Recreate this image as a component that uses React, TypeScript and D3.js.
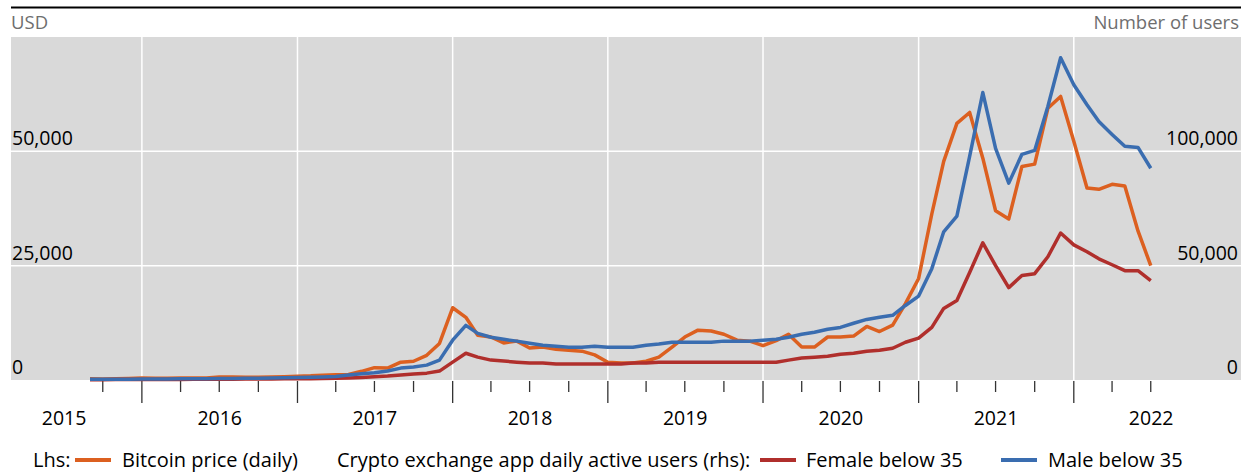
import React, { useEffect, useRef } from 'react';
import * as d3 from 'd3';

// monthly points, Aug 2015 .. Jun 2022 (plotted at month end)
const startMonth = [2015, 7]; // year, month index (0 = Jan)

const bitcoinPrice = [
  260, 235, 265, 350, 420,
  410, 400, 415, 435, 460, 640, 660, 580, 605, 640, 725, 830,
  915, 1060, 1130, 1210, 1900, 2700, 2600, 3900, 4100, 5400, 8000, 15800,
  13700, 9800, 9400, 8100, 8500, 7000, 7200, 6700, 6500, 6300, 5500, 3900,
  3700, 3700, 4100, 5000, 7200, 9400, 10900, 10700, 10000, 8700, 8500, 7500,
  8600, 10000, 7200, 7200, 9400, 9400, 9600, 11700, 10600, 12000, 16700, 22200,
  36300, 47800, 56100, 58500, 48500, 37000, 35200, 46700, 47200, 59400, 62000, 52200,
  42000, 41700, 42800, 42400, 32600, 25000,
];

const maleBelow35 = [
  300, 320, 350, 380, 420,
  450, 480, 520, 560, 600, 650, 700, 750, 800, 850, 950, 1050,
  1150, 1300, 1500, 2200, 2700, 3200, 3900, 5200, 5700, 6500, 8700, 17400,
  23900, 20400, 18700, 17800, 17000, 16100, 15200, 14800, 14300, 14300, 14800, 14300,
  14300, 14300, 15200, 15700, 16500, 16500, 16500, 16500, 17000, 17000, 17000, 17400,
  17800, 18700, 20000, 20900, 22200, 23000, 24800, 26500, 27400, 28300, 32600, 36700,
  48700, 64800, 71700, 97800, 125700, 101300, 86100, 98700, 100400, 119600, 140900, 129100,
  120400, 113000, 107400, 102200, 101700, 92600,
];

const femaleBelow35 = [
  150, 160, 170, 190, 210,
  230, 250, 270, 290, 310, 340, 370, 400, 430, 460, 500, 550,
  600, 650, 750, 900, 1100, 1400, 1700, 2200, 2600, 3000, 3900, 7800,
  11700, 10000, 8700, 8300, 7800, 7400, 7400, 7000, 7000, 7000, 7000, 7000,
  7000, 7400, 7400, 7800, 7800, 7800, 7800, 7800, 7800, 7800, 7800, 7800,
  7800, 8700, 9600, 10000, 10400, 11300, 11700, 12600, 13000, 13900, 16500, 18300,
  23000, 31300, 34800, 47000, 60000, 50000, 40400, 45700, 46500, 53900, 64300, 59100,
  56100, 53000, 50400, 47800, 47800, 43500,
];

const years = [2015, 2016, 2017, 2018, 2019, 2020, 2021, 2022];
const lhsTicks = [0, 25000, 50000];
const rhsTicks = [0, 50000, 100000];

const FONT = '"Open Sans", "Noto Sans", sans-serif';

const Chart = () => {
  const ref = useRef(null);

  useEffect(() => {
    const svg = d3.select(ref.current);
    svg.selectAll('*').remove();

    const left = 11, right = 1241, top = 37, bottom = 380;

    const x = d3.scaleTime()
      .domain([new Date(2015, 0, 1), new Date(2022, 0, 1)])
      .range([142 - 155.3, 142 + 6 * 155.3]);
    const yL = d3.scaleLinear().domain([0, 75000]).range([bottom, top]);
    const yR = d3.scaleLinear().domain([0, 150000]).range([bottom, top]);

    // month end dates
    const dates = bitcoinPrice.map((_, i) => new Date(startMonth[0], startMonth[1] + i + 1, 1));

    // top rule
    svg.append('line')
      .attr('x1', left).attr('x2', right).attr('y1', 7.5).attr('y2', 7.5)
      .attr('stroke', '#000').attr('stroke-width', 2);

    svg.append('text').text('USD')
      .attr('x', 11).attr('y', 29)
      .attr('fill', '#6e6e6e').style('font-size', '18.5px').style('font-family', FONT);
    svg.append('text').text('Number of users')
      .attr('x', 1239).attr('y', 29).attr('text-anchor', 'end')
      .attr('fill', '#6e6e6e').style('font-size', '18.5px').style('font-family', FONT);

    // plot background
    svg.append('rect')
      .attr('x', left).attr('y', top).attr('width', right - left).attr('height', bottom - top)
      .attr('fill', '#d9d9d9');

    // grid
    svg.append('g').selectAll('line')
      .data(lhsTicks.filter(d => d > 0))
      .enter().append('line')
      .attr('x1', left).attr('x2', right)
      .attr('y1', d => yL(d)).attr('y2', d => yL(d))
      .attr('stroke', '#fff').attr('stroke-width', 1.5);

    svg.append('g').selectAll('line')
      .data(years.slice(1))
      .enter().append('line')
      .attr('x1', d => x(new Date(d, 0, 1))).attr('x2', d => x(new Date(d, 0, 1)))
      .attr('y1', top).attr('y2', bottom)
      .attr('stroke', '#fff').attr('stroke-width', 1.5);

    // y labels
    svg.append('g').selectAll('text')
      .data(lhsTicks)
      .enter().append('text')
      .text(d => d3.format(',')(d))
      .attr('x', 12).attr('y', d => yL(d) - 6)
      .attr('fill', '#000').style('font-size', '19.5px').style('font-family', FONT);

    svg.append('g').selectAll('text')
      .data(rhsTicks)
      .enter().append('text')
      .text(d => d3.format(',')(d))
      .attr('x', 1238).attr('y', d => yR(d) - 6).attr('text-anchor', 'end')
      .attr('fill', '#000').style('font-size', '19.5px').style('font-family', FONT);

    // x ticks (quarters)
    const quarters = d3.timeMonth.every(3).range(new Date(2015, 9, 1), new Date(2022, 7, 1));
    svg.append('g').selectAll('line')
      .data(quarters)
      .enter().append('line')
      .attr('x1', d => x(d)).attr('x2', d => x(d))
      .attr('y1', bottom + 1)
      .attr('y2', d => d.getMonth() === 0 ? bottom + 23 : bottom + 12)
      .attr('stroke', '#333').attr('stroke-width', 1.3);

    svg.append('g').selectAll('text')
      .data(years)
      .enter().append('text')
      .text(d => d)
      .attr('x', d => x(new Date(d, 6, 2)))
      .attr('y', 425).attr('text-anchor', 'middle')
      .attr('fill', '#000').style('font-size', '19.5px').style('font-family', FONT);

    // lines
    const series = [
      { values: bitcoinPrice, scale: yL, color: '#dc6020' },
      { values: femaleBelow35, scale: yR, color: '#b02f2c' },
      { values: maleBelow35, scale: yR, color: '#3a6db0' },
    ];
    series.forEach(s => {
      const line = d3.line<number>()
        .x((_, i) => x(dates[i]))
        .y(d => s.scale(d));
      svg.append('path')
        .datum(s.values)
        .attr('d', line)
        .attr('fill', 'none')
        .attr('stroke', s.color)
        .attr('stroke-width', 3.5)
        .attr('stroke-linejoin', 'round');
    });

    // legend
    const ly = 460;
    const legend = svg.append('g').style('font-family', FONT).style('font-size', '20px');
    const legItems = [
      { type: 'text', x: 33, label: 'Lhs:' },
      { type: 'swatch', x: 75, color: '#dc6020' },
      { type: 'text', x: 122, label: 'Bitcoin price (daily)' },
      { type: 'text', x: 337, label: 'Crypto exchange app daily active users (rhs):' },
      { type: 'swatch', x: 760, color: '#b02f2c' },
      { type: 'text', x: 806, label: 'Female below 35' },
      { type: 'swatch', x: 1001, color: '#3a6db0' },
      { type: 'text', x: 1048, label: 'Male below 35' },
    ];
    legItems.forEach(it => {
      if (it.type === 'swatch') {
        legend.append('line')
          .attr('x1', it.x).attr('x2', it.x + 36)
          .attr('y1', ly).attr('y2', ly)
          .attr('stroke', it.color).attr('stroke-width', 4);
      } else {
        legend.append('text').text(it.label)
          .attr('x', it.x).attr('y', ly + 7).attr('fill', '#000');
      }
    });
  }, []);

  return (
    <svg ref={ref} width={1241} height={472}
      style={{ position: 'absolute', left: 0, top: 0, display: 'block' }} />
  );
};

export default function App() {
  return <Chart />;
}
